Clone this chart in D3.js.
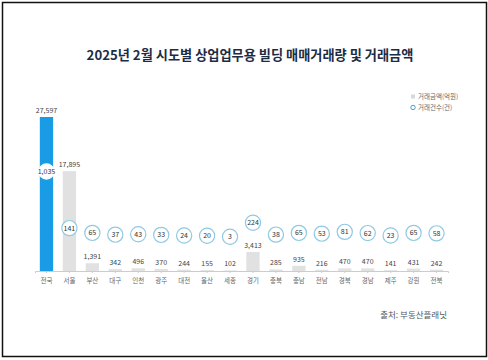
<!DOCTYPE html>
<html><head><meta charset="utf-8">
<script src="https://cdn.jsdelivr.net/npm/d3@7"></script>
<style>body{margin:0;background:#fff;}svg{display:block;font-family:"Noto Sans CJK KR","Noto Sans",sans-serif;}</style>
</head><body>
<script>
const categories = ["전국","서울","부산","대구","인천","광주","대전","울산","세종","경기","충북","충남","전남","경북","경남","제주","강원","전북"];
const amounts = [27597,17895,1391,342,496,370,244,155,102,3413,285,935,216,470,470,141,431,242];
const counts = [1035,141,65,37,43,33,24,20,3,224,38,65,53,81,62,23,65,58];
const titleText = "2025년 2월 시도별 상업업무용 빌딩 매매거래량 및 거래금액";
const legendLabels = ["거래금액(억원)","거래건수(건)"];
const sourceText = "출처: 부동산플래닛";

const W=488,H=360;
const svg=d3.select("body").append("svg").attr("width",W).attr("height",H);
svg.append("rect").attr("x",2.5).attr("y",2.5).attr("width",484).attr("height",354).attr("fill","#fff").attr("stroke","#111").attr("stroke-width",1.5);

svg.append("text").attr("x",250).attr("y",60).attr("text-anchor","middle").attr("font-size",13.2).attr("font-weight",700).attr("fill","#1c2c45").text(titleText);

const x=d3.scaleBand().domain(categories).range([35,448]).paddingInner(0.42).paddingOuter(0.21);
const y=d3.scaleLinear().domain([0,27597]).range([271,117]);
const yc=d3.scaleLinear().domain([0,1035]).range([237,171.5]);

const g=svg.append("g");
g.selectAll("rect.bar").data(amounts).join("rect").attr("class","bar")
 .attr("x",(d,i)=>x(categories[i])).attr("width",x.bandwidth())
 .attr("y",d=>y(d)).attr("height",d=>y(0)-y(d))
 .attr("fill",(d,i)=>i===0?"#1a9be6":"#e1e1e1");

g.selectAll("text.val").data(amounts).join("text").attr("class","val")
 .attr("x",(d,i)=>x(categories[i])+x.bandwidth()/2).attr("y",d=>y(d)-4)
 .attr("text-anchor","middle").attr("font-size",7).attr("fill","#444").text(d=>d3.format(",")(d));

const ax=svg.append("g").attr("transform","translate(0,271)").call(d3.axisBottom(x).tickSize(2).tickPadding(5));
ax.select(".domain").attr("stroke","#ccc");
ax.selectAll(".tick line").attr("stroke","#ccc");
ax.selectAll(".tick text").attr("font-size",6.5).attr("fill","#666").attr("font-family","Noto Sans CJK KR");

const cg=svg.append("g");
cg.selectAll("circle").data(counts).join("circle")
 .attr("cx",(d,i)=>x(categories[i])+x.bandwidth()/2).attr("cy",d=>yc(d)).attr("r",7.6)
 .attr("fill","#fff").attr("stroke",(d,i)=>i===0?"#fff":"#8fc9e3").attr("stroke-width",1.2);
cg.selectAll("text").data(counts).join("text")
 .attr("x",(d,i)=>x(categories[i])+x.bandwidth()/2).attr("y",d=>yc(d)+2.5)
 .attr("text-anchor","middle").attr("font-size",7).attr("fill","#333").text(d=>d3.format(",")(d));

const lg=svg.append("g");
lg.append("rect").attr("x",411).attr("y",94.5).attr("width",4).attr("height",4).attr("fill","#d8d8d8");
lg.append("text").attr("x",418).attr("y",99).attr("font-size",6.5).attr("fill","#666").text(legendLabels[0]);
lg.append("circle").attr("cx",413).attr("cy",107.5).attr("r",2.2).attr("fill","#fff").attr("stroke","#3a95c8").attr("stroke-width",0.9);
lg.append("text").attr("x",418).attr("y",110).attr("font-size",6.5).attr("fill","#666").text(legendLabels[1]);

svg.append("text").attr("x",447).attr("y",318).attr("text-anchor","end").attr("font-size",8.5).attr("fill","#555").text(sourceText);
</script>
</body></html>
